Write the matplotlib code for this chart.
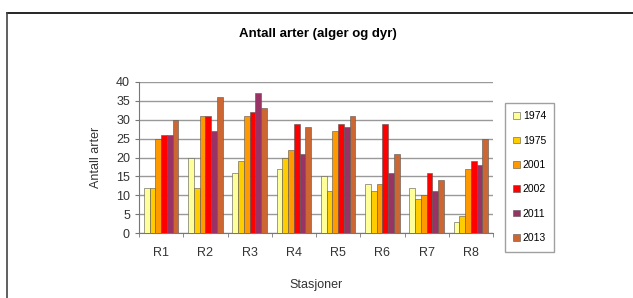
import numpy as np
import matplotlib
matplotlib.use("Agg")
import matplotlib.pyplot as plt
from matplotlib.lines import Line2D

plt.rcParams['font.family'] = ['Liberation Sans', 'DejaVu Sans']

stations = ["R1", "R2", "R3", "R4", "R5", "R6", "R7", "R8"]
years = ["1974", "1975", "2001", "2002", "2011", "2013"]

v1974 = [12, 20, 16, 17, 15, 13, 12, 3]
v1975 = [12, 12, 19, 20, 11, 11, 9, 4.5]
v2001 = [25, 31, 31, 22, 27, 13, 10, 17]
v2002 = [26, 31, 32, 29, 29, 29, 16, 19]
v2011 = [26, 27, 37, 21, 28, 16, 11, 18]
v2013 = [30, 36, 33, 28, 31, 21, 14, 25]
series = [v1974, v1975, v2001, v2002, v2011, v2013]

colors = ["#FFFF99", "#FFCC00", "#FF9900", "#FF0000", "#993366", "#CC6633"]

W, H = 633, 298
fig = plt.figure(figsize=(W / 100, H / 100), dpi=100)

# outer frame (top and left only)
fig.add_artist(Line2D([7/W, 1], [1 - 13/H, 1 - 13/H], color="black", lw=1.2))
fig.add_artist(Line2D([7/W, 7/W], [0, 1 - 13/H], color="#444444", lw=1.2))

ax = fig.add_axes([139/W, 65/H, 354/W, 151/H])

x = np.arange(len(stations))
width = 0.13
for i, (vals, c, yr) in enumerate(zip(series, colors, years)):
    ax.bar(x + (i - 2.5) * width, vals, width, color=c, edgecolor="#555555",
           linewidth=0.4, label=yr, zorder=3)

ax.set_xlim(-0.5, len(stations) - 0.5)
ax.set_ylim(0, 40)
ax.set_yticks(range(0, 41, 5))
ax.yaxis.grid(True, color="#999999", lw=1.0, zorder=0)
ax.set_xticks(x)
ax.set_xticklabels(stations, fontsize=9, color="#333333")
ax.set_xticks(np.arange(-0.5, len(stations)), minor=True)
ax.tick_params(axis="x", which="major", length=0, pad=10)
ax.tick_params(axis="x", which="minor", length=3, color="#777777")
ax.tick_params(axis="y", length=3, color="#777777", labelsize=9, labelcolor="#333333")
for s in ["top", "right"]:
    ax.spines[s].set_visible(False)
ax.spines["left"].set_color("#777777")
ax.spines["bottom"].set_color("#777777")

ax.set_ylabel("Antall arter", fontsize=9, color="#333333")
ax.yaxis.set_label_coords((102 - 139) / 354, 0.5)
ax.set_xlabel("Stasjoner", fontsize=9, color="#333333")
ax.xaxis.set_label_coords(0.5, -(285 - 233) / 151)
ax.xaxis.label.set_va("center")
fig.text(318/W, 1 - 34/H, "Antall arter (alger og dyr)", ha="center", va="center",
         fontsize=9.5, fontweight="bold")

leg = fig.legend(loc="upper left", bbox_to_anchor=(505/W, 1 - 103/H),
                 fontsize=7.5, frameon=True, fancybox=False, edgecolor="#888888",
                 handlelength=0.6, handleheight=0.6, handletextpad=0.3,
                 labelspacing=1.38, borderpad=0.8, borderaxespad=0)
leg.get_frame().set_linewidth(1.0)

fig.savefig("out.png", dpi=100, facecolor="white")
